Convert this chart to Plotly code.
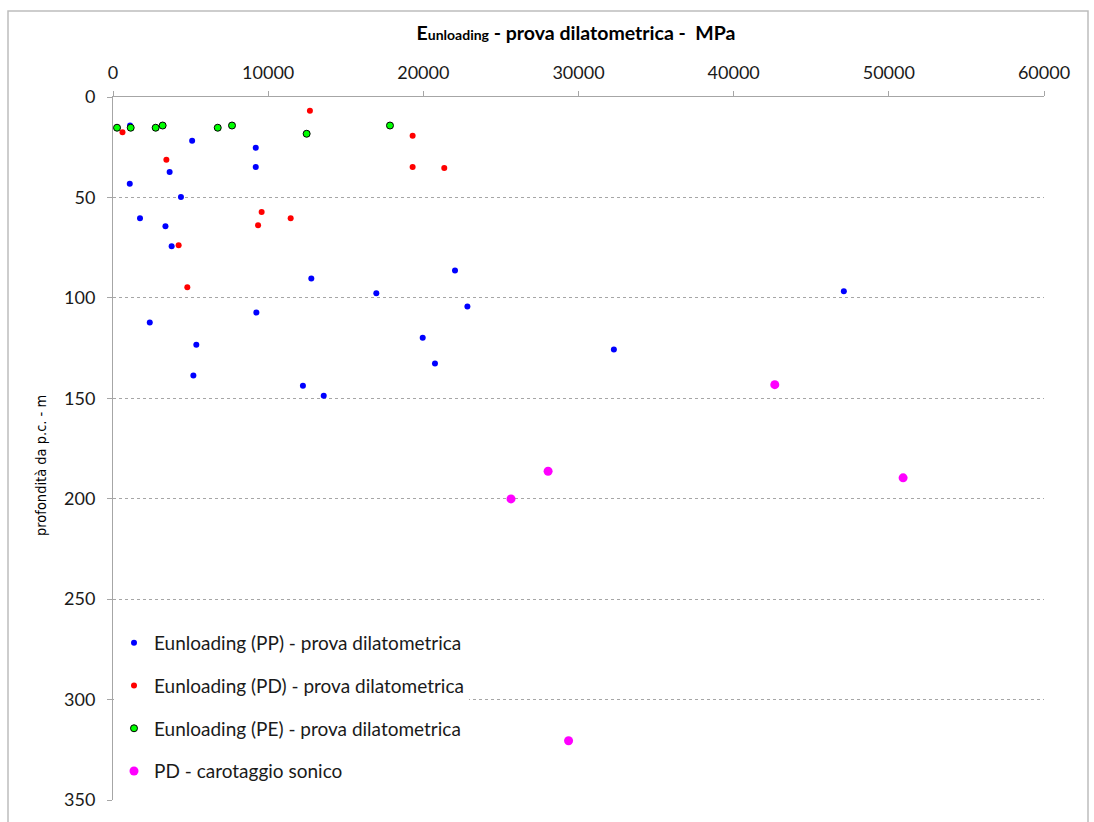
import plotly.graph_objects as go

# Eunloading (PP) - prova dilatometrica: modulus [MPa], depth [m]
pp_e = [1100, 5100, 9200, 9200, 3650, 1080, 4380, 1740, 3380, 3780, 12780, 16970,
        9240, 2370, 5370, 5180, 12240, 13580, 22040, 22840, 19960, 20750, 32280, 47100]
pp_z = [14.2, 21.8, 25.3, 34.8, 37.3, 43.2, 49.8, 60.4, 64.3, 74.3, 90.4, 97.7,
        107.3, 112.3, 123.3, 138.7, 143.7, 148.7, 86.4, 104.3, 119.8, 132.7, 125.7, 96.7]

# Eunloading (PD) - prova dilatometrica
pd_e = [610, 12690, 3440, 19310, 19310, 21350, 9580, 9350, 11450, 4230, 4790]
pd_z = [17.5, 6.9, 31.3, 19.3, 34.8, 35.3, 57.2, 63.8, 60.4, 73.8, 94.7]

# Eunloading (PE) - prova dilatometrica
pe_e = [260, 1140, 2750, 3200, 6750, 7670, 12480, 17850]
pe_z = [15.3, 15.3, 15.3, 14.2, 15.3, 14.2, 18.3, 14.2]

# PD - carotaggio sonico
son_e = [42650, 28040, 25650, 50920, 29360]
son_z = [143.2, 186.3, 200.1, 189.6, 320.5]

x_ticks = [0, 10000, 20000, 30000, 40000, 50000, 60000]
y_ticks = [0, 50, 100, 150, 200, 250, 300, 350]

W, H = 1094, 822
ML, MR, MT, MB = 113, 50, 97, 22

fig = go.Figure()
fig.add_trace(go.Scatter(x=pp_e, y=pp_z, mode="markers", name="Eunloading (PP) - prova dilatometrica",
                         legendgroup="a", marker=dict(color="#0000FF", size=6)))
fig.add_trace(go.Scatter(x=pd_e, y=pd_z, mode="markers", name="Eunloading (PD) - prova dilatometrica",
                         legendgroup="b", marker=dict(color="#FF0000", size=6)))
fig.add_trace(go.Scatter(x=pe_e, y=pe_z, mode="markers", name="Eunloading (PE) - prova dilatometrica",
                         legendgroup="c", marker=dict(color="#00FF00", size=7,
                                                      line=dict(color="#000000", width=1))))
fig.add_trace(go.Scatter(x=son_e, y=son_z, mode="markers", name="PD - carotaggio sonico",
                         legendgroup="d", marker=dict(color="#FF00FF", size=9)))

pw = W - ML - MR
ph = H - MT - MB

def px(x):
    return (x - ML) / pw

def py(y):
    return (H - MB - y) / ph

# outer chart frame
fig.add_shape(type="rect", xref="paper", yref="paper",
              x0=px(8), x1=px(1088), y0=py(830), y1=py(11),
              line=dict(color="#BDBDBD", width=1.5), fillcolor="rgba(0,0,0,0)", layer="below")

# depth axis title
fig.add_annotation(text="profondità da p.c. - m", xref="paper", yref="paper",
                   x=px(41), y=py(466), xanchor="center", yanchor="middle",
                   textangle=-90, showarrow=False,
                   font=dict(family="DejaVu Sans Condensed, Liberation Sans Narrow, sans-serif",
                             size=14.5, color="#000000"))

fig.update_layout(
    width=W, height=H,
    margin=dict(l=ML, r=MR, t=MT, b=MB),
    paper_bgcolor="white", plot_bgcolor="white",
    font=dict(family="Lato, Calibri, sans-serif", size=18, color="#1a1a1a"),
    title=dict(text="<b>E<span style='font-size:14px'>unloading</span> - prova dilatometrica -  MPa</b>",
               xref="container", x=576 / W, xanchor="center",
               yref="container", y=1 - 33 / H, yanchor="middle",
               font=dict(size=19.5, color="#000000")),
    showlegend=True,
    legend=dict(x=px(114), y=py(624), xanchor="left", yanchor="top",
                bgcolor="white", traceorder="grouped", tracegroupgap=15,
                font=dict(size=19, color="#1a1a1a"), itemsizing="trace"),
    xaxis=dict(side="top", range=[0, 60000], tickvals=x_ticks,
               ticktext=[str(v) for v in x_ticks],
               showgrid=False, zeroline=False, showline=True, linecolor="#A6A6A6",
               linewidth=1, ticks="outside", ticklen=5, tickcolor="#A6A6A6",
               ticklabelstandoff=5, anchor="y", position=1),
    yaxis=dict(range=[350, 0], tickvals=y_ticks, ticktext=[str(v) for v in y_ticks],
               showgrid=True, gridcolor="#A6A6A6", griddash="dot", gridwidth=1,
               zeroline=False, showline=True, linecolor="#A6A6A6", linewidth=1,
               ticks="outside", ticklen=5, tickcolor="#A6A6A6", ticklabelstandoff=8),
)

fig.write_html("out.html")
